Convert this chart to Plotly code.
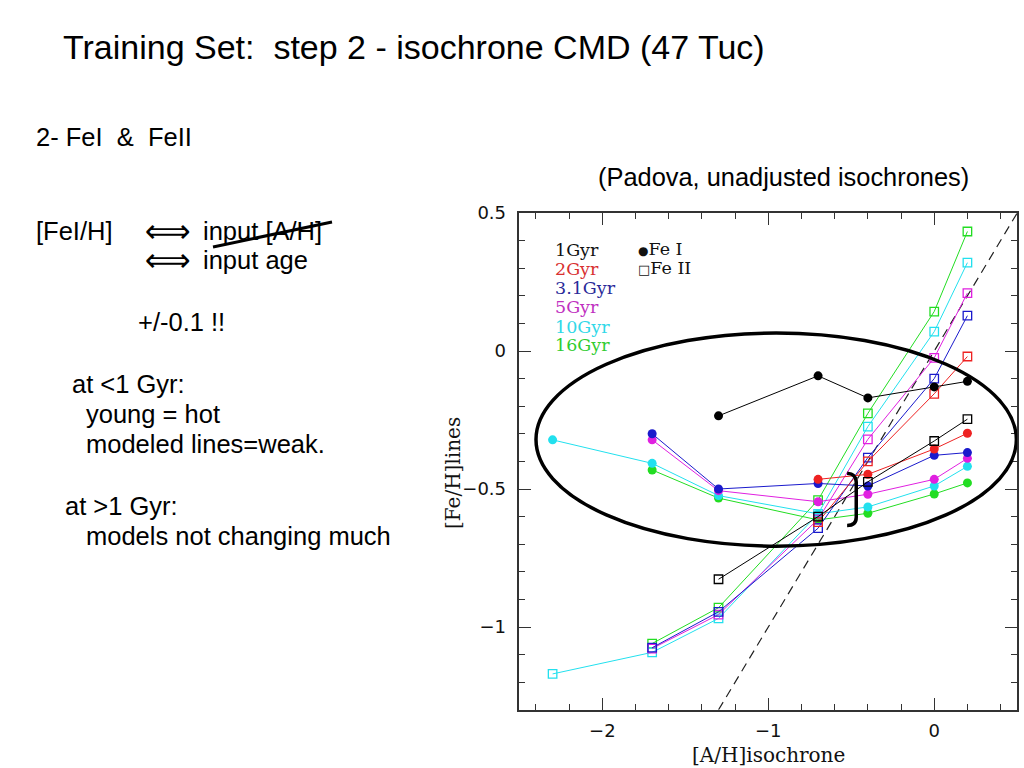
import plotly.graph_objects as go

# ---------------- data ----------------
ages = ["1Gyr", "2Gyr", "3.1Gyr", "5Gyr", "10Gyr", "16Gyr"]
age_colors = ["#000000", "#ee2222", "#1a1acc", "#e020e0", "#22e0ee", "#22dd22"]
age_text_colors = ["#111111", "#d83030", "#2a2a99", "#c030c0", "#30d8e8", "#30cc30"]

x_ah = [-2.3, -1.7, -1.3, -0.7, -0.4, 0.0, 0.2]

feI_1gyr = [None, None, -0.235, -0.09, -0.17, -0.13, -0.11]
feI_2gyr = [None, None, None, -0.465, -0.447, -0.355, -0.298]
feI_3gyr = [None, -0.30, -0.50, -0.48, -0.489, -0.378, -0.368]
feI_5gyr = [None, -0.322, -0.506, -0.546, -0.519, -0.465, -0.389]
feI_10gyr = [-0.322, -0.407, -0.524, -0.59, -0.565, -0.489, -0.418]
feI_16gyr = [None, -0.431, -0.533, -0.612, -0.588, -0.518, -0.478]

feII_1gyr = [None, None, -0.827, -0.60, -0.474, -0.326, -0.247]
feII_2gyr = [None, None, None, -0.62, -0.40, -0.155, -0.02]
feII_3gyr = [None, -1.075, -0.945, -0.642, -0.386, -0.10, 0.128]
feII_5gyr = [None, -1.078, -0.955, -0.61, -0.32, -0.025, 0.21]
feII_10gyr = [-1.17, -1.092, -0.969, -0.59, -0.274, 0.07, 0.32]
feII_16gyr = [None, -1.06, -0.93, -0.54, -0.226, 0.143, 0.433]

one_to_one = [-1.3, 0.5]

x_tickvals = [-2, -1, 0]
x_ticktext = ["\u22122", "\u22121", "0"]
y_tickvals = [0.5, 0, -0.5, -1]
y_ticktext = ["0.5", "0", "\u22120.5", "\u22121"]

feI_all = [feI_1gyr, feI_2gyr, feI_3gyr, feI_5gyr, feI_10gyr, feI_16gyr]
feII_all = [feII_1gyr, feII_2gyr, feII_3gyr, feII_5gyr, feII_10gyr, feII_16gyr]

# ---------------- figure ----------------
W, H = 1024, 768
fig = go.Figure()

fig.add_trace(go.Scatter(x=one_to_one, y=one_to_one, mode="lines",
                         line=dict(color="#222222", width=1.2, dash="9px,6px"),
                         showlegend=False, hoverinfo="skip"))

for i in reversed(range(len(ages))):
    c = age_colors[i]
    fig.add_trace(go.Scatter(x=x_ah, y=feII_all[i], mode="lines+markers",
                             line=dict(color=c, width=1),
                             marker=dict(symbol="square-open", size=8.5, color=c,
                                         line=dict(width=1.3, color=c)),
                             showlegend=False, name=ages[i] + " Fe II"))
    fig.add_trace(go.Scatter(x=x_ah, y=feI_all[i], mode="lines+markers",
                             line=dict(color=c, width=1),
                             marker=dict(symbol="circle", size=9, color=c),
                             showlegend=False, name=ages[i] + " Fe I"))


def px(x):
    return x / W


def py(y):
    return 1 - y / H


x0p, x1p = 519.4, 1017.2
y0p, y1p = 213.0, 709.8

axis_common = dict(showline=True, linecolor="#333333", linewidth=1.5, mirror="allticks",
                   ticks="inside", ticklen=12, tickwidth=1.3, tickcolor="#333333",
                   showgrid=False, zeroline=False, automargin=False,
                   tickfont=dict(family="DejaVu Sans", size=18, color="#111111"))

fig.update_layout(
    template="none",
    width=W, height=H,
    margin=dict(l=0, r=0, t=0, b=0, pad=0, autoexpand=False),
    paper_bgcolor="white", plot_bgcolor="white",
    showlegend=False,
    xaxis=dict(range=[-2.5, 0.5], domain=[px(x0p), px(x1p)],
               tickmode="array", tickvals=x_tickvals, ticktext=x_ticktext,
               minor=dict(ticks="inside", dtick=0.2, tick0=0, ticklen=6, tickwidth=1.2,
                          tickcolor="#333333", showgrid=False),
               ticklabelstandoff=4, **axis_common),
    yaxis=dict(range=[-1.3, 0.5], domain=[py(y1p), py(y0p)],
               tickmode="array", tickvals=y_tickvals, ticktext=y_ticktext,
               minor=dict(ticks="inside", dtick=0.1, tick0=0, ticklen=6, tickwidth=1.2,
                          tickcolor="#333333", showgrid=False),
               ticklabelstandoff=8, **axis_common),
)

# ---------------- shapes ----------------
fig.add_shape(type="circle", xref="x", yref="y", x0=-2.40, x1=0.495, y0=-0.707, y1=0.065,
              line=dict(color="black", width=3.5), layer="above")
fig.add_shape(type="path", xref="x", yref="y",
              path="M -0.525,-0.443 Q -0.47,-0.445 -0.47,-0.475 L -0.47,-0.602 Q -0.47,-0.632 -0.525,-0.632",
              line=dict(color="black", width=3.5), layer="above")
fig.add_shape(type="line", xref="paper", yref="paper",
              x0=px(213), y0=py(247), x1=px(332), y1=py(222),
              line=dict(color="black", width=3))

# ---------------- text ----------------
sans = "Liberation Sans, Arial, DejaVu Sans"


def txt(s, x, y, size=25.5, family=sans, color="black", xanchor="left", **kw):
    fig.add_annotation(text=s, x=px(x), y=py(y), xref="paper", yref="paper",
                       xanchor=xanchor, yanchor="middle", showarrow=False,
                       font=dict(family=family, size=size, color=color), **kw)


txt("Training Set:\u00a0 step 2 - isochrone CMD (47 Tuc)", 61, 47, size=34)
txt("2- FeI \u00a0&\u00a0 FeII", 34, 137)
txt("[FeI/H]", 34, 231)
txt("\u27fa", 143, 231, family="DejaVu Sans", size=32)
txt("input [A/H]", 201, 231)
txt("\u27fa", 143, 260, family="DejaVu Sans", size=32)
txt("input age", 201, 260)
txt("+/-0.1 !!", 136, 322)
txt("at <1 Gyr:", 70, 384)
txt("young = hot", 84, 414)
txt("modeled lines=weak.", 84, 444)
txt("at >1 Gyr:", 63, 506)
txt("models not changing much", 84, 536)
txt("(Padova, unadjusted isochrones)", 596, 177, size=25.4)

serif = "DejaVu Serif"
legend_y = [250, 269, 288, 307, 327, 345]
for i, a in enumerate(ages):
    txt(a, 553, legend_y[i], size=17.5, family=serif, color=age_text_colors[i])
txt("<span style='font-size:12px'>\u25cf</span>Fe I", 636, 249, size=17.5, family=serif, color="#111111")
txt("<span style='font-size:13px'>\u25a1</span>Fe II", 636, 268, size=17.5, family=serif, color="#111111")

txt("[A/H]isochrone", 768, 755, size=20, family=serif, color="#111111", xanchor="center")
txt("[Fe/H]lines", 453, 473, size=20, family=serif, color="#111111", xanchor="center", textangle=-90)

fig.write_html("out.html", config={"displayModeBar": False},
               post_script="document.body.style.margin='0';document.body.style.padding='0';"
                           "document.body.style.overflow='hidden';"
                           "document.documentElement.style.overflow='hidden';")
